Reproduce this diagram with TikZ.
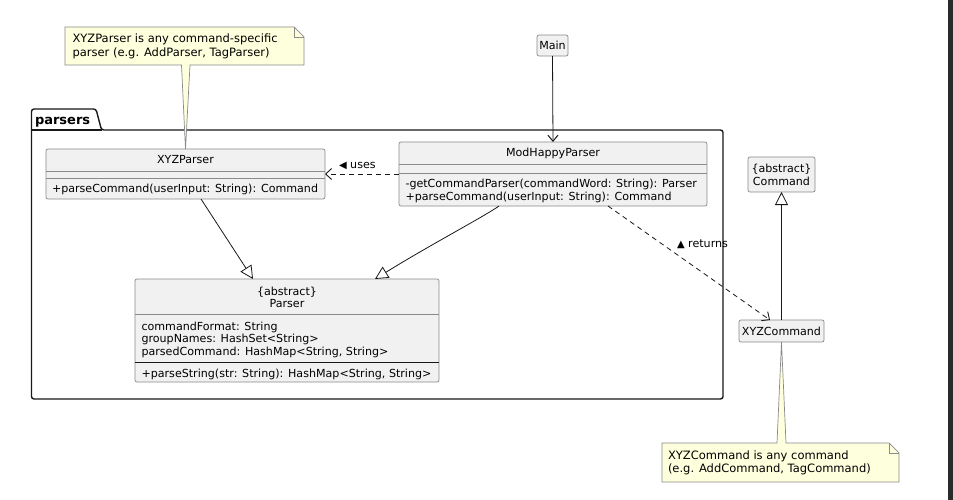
\documentclass[tikz,border=0pt]{standalone}
\usepackage{fontspec}
\setmainfont{DejaVu Sans}
\usetikzlibrary{arrows.meta,calc}
\definecolor{clsfill}{HTML}{F1F1F1}
\definecolor{clsdraw}{HTML}{8A8A8A}
\definecolor{notefill}{HTML}{FEFFDD}
\definecolor{notedraw}{HTML}{8A8A8A}
\definecolor{lnk}{HTML}{181818}
\definecolor{stripcol}{HTML}{2B2B2B}
\begin{document}
\begin{tikzpicture}[x=1pt,y=-1pt,
  font=\fontsize{11.1}{12.8}\selectfont,
  cls/.style={draw=clsdraw, fill=clsfill, line width=0.7pt, rounded corners=2pt, inner sep=0pt, outer sep=0pt},
  txt/.style={inner sep=0pt, outer sep=0pt, text=black},
  notetxt/.style={inner sep=0pt, outer sep=0pt, text=black, font=\fontsize{11.5}{13}\selectfont},
  sepline/.style={draw=clsdraw, line width=0.7pt},
  notebox/.style={draw=notedraw, fill=notefill, line width=0.7pt},
  deplink/.style={draw=lnk, line width=0.8pt, dash pattern=on 5pt off 4pt, -{Straight Barb[length=6pt,width=11pt,line width=0.9pt]}},
  asslink/.style={draw=lnk, line width=0.8pt, -{Straight Barb[length=6pt,width=10pt,line width=1pt]}},
  genlink/.style={draw=lnk, line width=0.8pt, -{Triangle[open,length=13pt,width=13pt,fill=white,line width=0.8pt]}}
]
\fill[white] (0,0) rectangle (953,500);
\useasboundingbox (0,0) rectangle (953,500);
\fill[stripcol] (948,0) rectangle (953,500);

% package
\draw[lnk, line width=1.4pt, rounded corners=2.5pt]
  (31.5,130) -- (31.5,109) -- (96,109) -- (101.5,130) -- (723,130) -- (723,399) -- (31.5,399) -- cycle;
\draw[lnk, line width=1.4pt] (31.5,130) -- (101.5,130);
\node[txt, anchor=base west, font=\fontsize{13}{15}\selectfont\bfseries] (pkgT) at (35,125) {parsers};

% classes
\node[cls, minimum width=31, minimum height=21] (main) at (552.5,45.5) {};
\node[txt, anchor=base] (mainT) at (552.5,49.5) {Main};

\node[cls, minimum width=279, minimum height=50] (xyzp) at (185.5,174) {};
\node[txt, anchor=base] (xyzpT) at (185.5,164) {XYZParser};
\draw[sepline] (46,171) -- (325,171);
\draw[sepline] (46,178) -- (325,178);
\node[txt, anchor=base west] (xyzpM) at (52,193) {+parseCommand(userInput: String): Command};

\node[cls, minimum width=308, minimum height=64] (mhp) at (553,174) {};
\node[txt, anchor=base] (mhpT) at (553,157) {ModHappyParser};
\draw[sepline] (399,164) -- (707,164);
\draw[sepline] (399,173) -- (707,173);
\node[txt, anchor=base west] (mhpM1) at (405.5,187) {-getCommandParser(commandWord: String): Parser};
\node[txt, anchor=base west] (mhpM2) at (405.5,200) {+parseCommand(userInput: String): Command};

\node[cls, minimum width=304, minimum height=103] (parser) at (287,330.5) {};
\node[txt, anchor=base] (parserT1) at (287,295) {\{abstract\}};
\node[txt, anchor=base] (parserT2) at (287,307.5) {Parser};
\draw[sepline] (135,314) -- (439,314);
\node[txt, anchor=base west] (parserA1) at (141.5,330) {commandFormat: String};
\node[txt, anchor=base west] (parserA2) at (141.5,342.8) {groupNames: HashSet<String>};
\node[txt, anchor=base west] (parserA3) at (141.5,355.6) {parsedCommand: HashMap<String, String>};
\draw[lnk, line width=1pt] (135,362) -- (439,362);
\node[txt, anchor=base west] (parserM) at (141.5,377) {+parseString(str: String): HashMap<String, String>};

\node[cls, minimum width=67, minimum height=35] (cmd) at (781.5,174.5) {};
\node[txt, anchor=base] (cmdT1) at (781.5,172) {\{abstract\}};
\node[txt, anchor=base] (cmdT2) at (781.5,185) {Command};

\node[cls, minimum width=85, minimum height=22] (xyzc) at (781.5,331) {};
\node[txt, anchor=base] (xyzcT) at (781.5,335) {XYZCommand};

% notes
\draw[notebox] (65,27) -- (294,27) -- (304,37) -- (304,65) -- (190,65) -- (xyzp.north) -- (181.5,65) -- (65,65) -- cycle;
\draw[notedraw, line width=0.7pt] (294,27) -- (294,37) -- (304,37);
\node[notetxt, anchor=base west] (note1a) at (72.5,43) {XYZParser is any command-specific};
\node[notetxt, anchor=base west] (note1b) at (72.5,57) {parser (e.g. AddParser, TagParser)};

\draw[notebox] (662,443) -- (777,443) -- (xyzc.south) -- (786,443) -- (889,443) -- (899,453) -- (899,482) -- (662,482) -- cycle;
\draw[notedraw, line width=0.7pt] (889,443) -- (889,453) -- (899,453);
\node[notetxt, anchor=base west] (note2a) at (668,459) {XYZCommand is any command};
\node[notetxt, anchor=base west] (note2b) at (668,472.5) {(e.g. AddCommand, TagCommand)};

% connectors
\draw[asslink] (main.south) -- (mhp.north);
\draw[deplink] (mhp.west) -- (xyzp.east);
\node[txt, anchor=base west] (usesL) at (339,168) {{\fontsize{10}{10}\selectfont ◀} uses};
\draw[genlink] ($(xyzp.south west)+(155,0)$) -- ($(parser.north west)+(118,0)$);
\draw[genlink] ($(mhp.south west)+(100,0)$) .. controls (485,216) and (430,245) .. ($(parser.north west)+(240,0)$);
\draw[deplink] ($(mhp.south west)+(209,0)$) -- ($(xyzc.north west)+(31,0)$);
\node[txt, anchor=base west] (retL) at (677,247) {{\fontsize{10}{10}\selectfont ▲} returns};
\draw[genlink] (xyzc.north) -- (cmd.south);
\end{tikzpicture}
\end{document}
